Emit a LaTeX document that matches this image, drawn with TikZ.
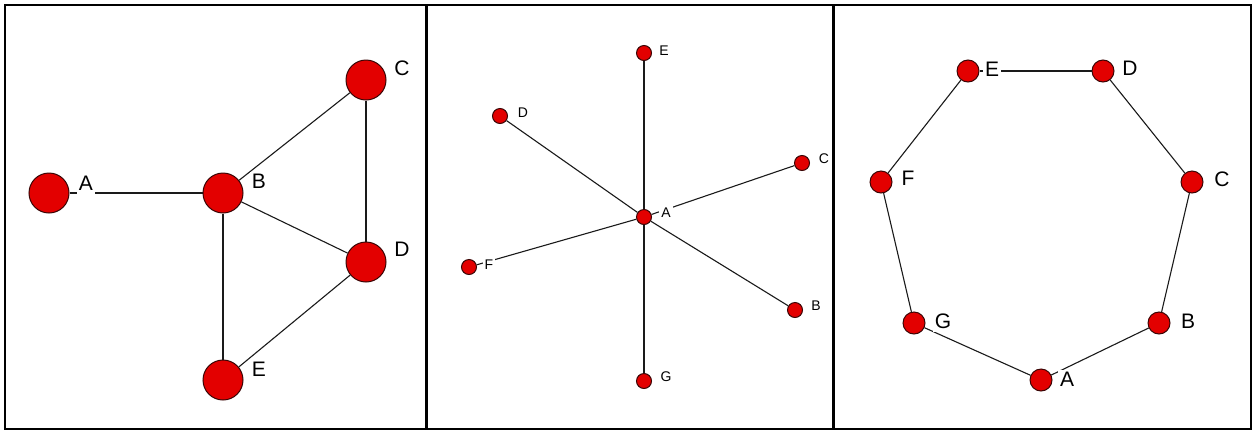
\documentclass[tikz,border=0pt]{standalone}
\usepackage{fontspec}
\setmainfont{Liberation Sans}
\usetikzlibrary{positioning}
\definecolor{NetRed}{HTML}{E30000}
\definecolor{NetRim}{HTML}{3A0606}
\definecolor{NetLine}{HTML}{1A1A1A}

\tikzset{
  vert/.style={circle,fill=NetRed,draw=NetRim,line width=1pt,inner sep=0pt},
  bigvert/.style={vert,minimum size=40pt},
  midvert/.style={vert,minimum size=22pt},
  smallvert/.style={vert,minimum size=15pt},
  tag/.style={fill=white,inner sep=2pt,text depth=0.2em},
  bigtag/.style={tag,font=\fontsize{21}{21}\selectfont},
  smalltag/.style={tag,font=\fontsize{14}{14}\selectfont},
  edge/.style={NetLine,line width=1.1pt},
  panel/.style={draw=black,line width=1.6pt}
}

\begin{document}
\begin{tikzpicture}[x=1pt,y=-1pt]
      \useasboundingbox (0,0) rectangle (1256,432);
      \fill[white] (0,0) rectangle (1256,432);
      \draw[panel] (5,5) rectangle (426,429);
      \draw[panel] (427,5) rectangle (833,429);
      \draw[panel] (834,5) rectangle (1251,429);

      \node[bigvert] (pA) at (49,193) {};
      \node[bigvert] (pB) at (223,193) {};
      \node[bigvert] (pC) at (366,80) {};
      \node[bigvert] (pD) at (366,262) {};
      \node[bigvert] (pE) at (223,380) {};
      \foreach \u/\v in {A/B,B/C,C/D,B/D,B/E,D/E}
        \draw[edge] (p\u) -- (p\v);
      \node[bigtag] (lpA) at (86,184) {A};
      \node[bigtag] (lpB) at (259,182) {B};
      \node[bigtag] (lpC) at (402,69) {C};
      \node[bigtag] (lpD) at (402,250) {D};
      \node[bigtag] (lpE) at (259,370) {E};

      \node[smallvert] (sA) at (644,217) {};
      \node[smallvert] (sB) at (795,310) {};
      \node[smallvert] (sC) at (802,163) {};
      \node[smallvert] (sD) at (500,116) {};
      \node[smallvert] (sE) at (644,53) {};
      \node[smallvert] (sF) at (469,267) {};
      \node[smallvert] (sG) at (644,381) {};
      \foreach \v in {B,C,D,E,F,G}
        \draw[edge] (sA) -- (s\v);
      \node[smalltag] (lsA) at (666,214) {A};
      \node[smalltag] (lsB) at (816,307) {B};
      \node[smalltag] (lsC) at (824,160) {C};
      \node[smalltag] (lsD) at (523,114) {D};
      \node[smalltag] (lsE) at (664,52) {E};
      \node[smalltag] (lsF) at (489,266) {F};
      \node[smalltag] (lsG) at (666,378) {G};

      \node[midvert] (cA) at (1041,380) {};
      \node[midvert] (cB) at (1159,323) {};
      \node[midvert] (cC) at (1192,182) {};
      \node[midvert] (cD) at (1103,71) {};
      \node[midvert] (cE) at (968,71) {};
      \node[midvert] (cF) at (881,182) {};
      \node[midvert] (cG) at (914,323) {};
      \foreach \u/\v in {A/B,B/C,C/D,D/E,E/F,F/G,G/A}
        \draw[edge] (c\u) -- (c\v);
      \node[bigtag] (lcA) at (1067,380) {A};
      \node[bigtag] (lcB) at (1188,322) {B};
      \node[bigtag] (lcC) at (1222,180) {C};
      \node[bigtag] (lcD) at (1130,69) {D};
      \node[bigtag] (lcE) at (992,70) {E};
      \node[bigtag] (lcF) at (908,179) {F};
      \node[bigtag] (lcG) at (943,322) {G};
    \end{tikzpicture}
\end{document}
